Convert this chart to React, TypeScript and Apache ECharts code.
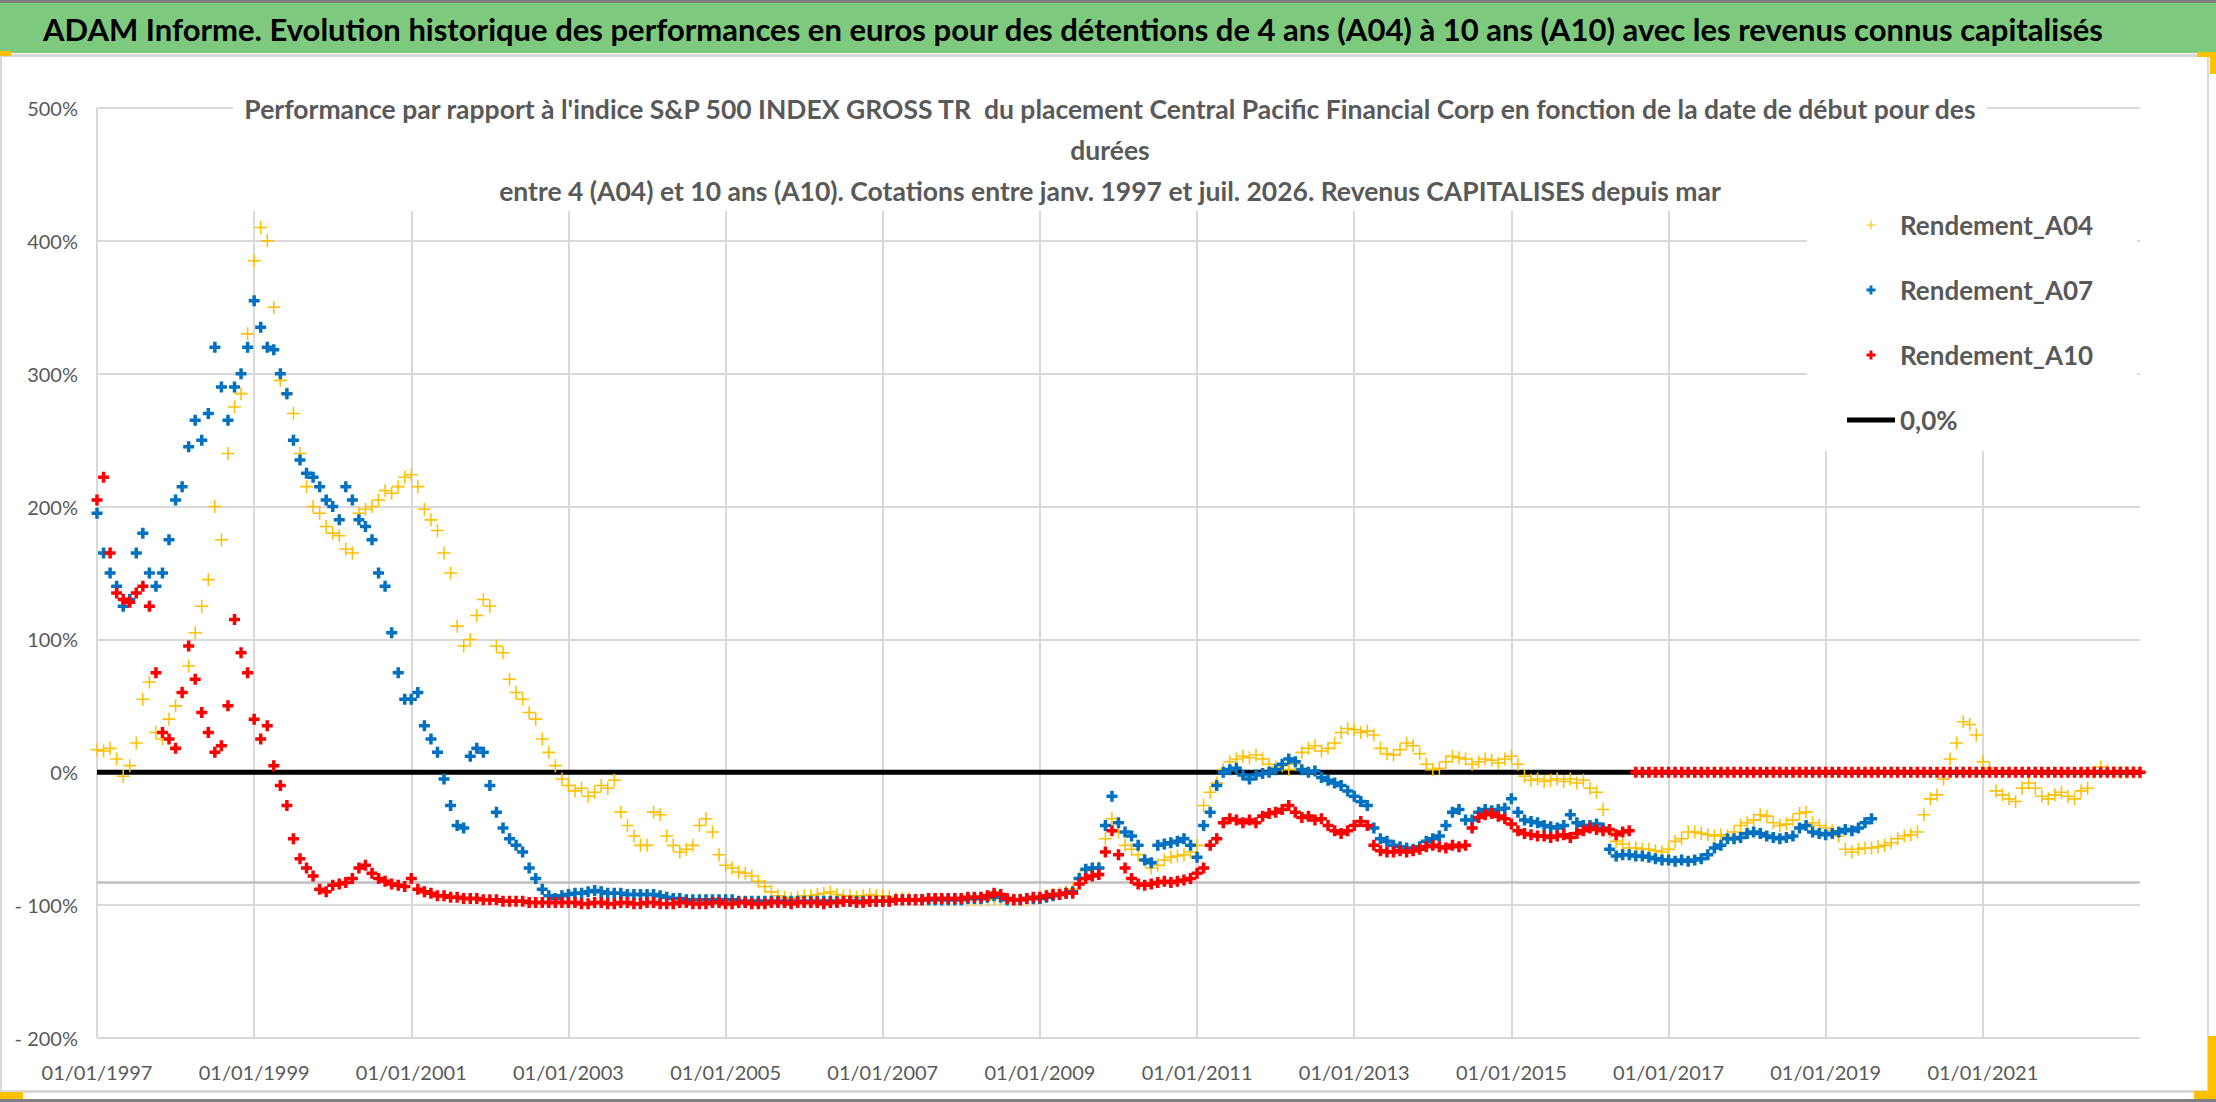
import { useEffect, useRef } from "react";
import * as echarts from "echarts";

const FONT = "Lato, 'Liberation Sans', sans-serif";
const GREY_TEXT = "#595959";
const GRID_GREY = "#D9D9D9";

const START_YEAR = 1997;
const SPAN_YEARS = 26; // 01/01/1997 -> 01/01/2023

const MAIN_TITLE =
  "ADAM Informe. Evolution historique des performances en euros pour des détentions de 4 ans (A04) à 10 ans (A10) avec les revenus connus capitalisés";
const CHART_TITLE =
  "Performance par rapport à l'indice S&P 500 INDEX GROSS TR  du placement Central Pacific Financial Corp en fonction de la date de début pour des\ndurées\nentre 4 (A04) et 10 ans (A10). Cotations entre janv. 1997 et juil. 2026. Revenus CAPITALISES depuis mar";

// one value per month (%), a row per year, starting January 1997
const rendementA04: number[] = [
  17, 16, 18, 10, -3, 5, 22, 55, 68, 30, 25, 40,
  50, 60, 80, 105, 125, 145, 200, 175, 240, 275, 285, 330,
  385, 410, 400, 350, 295, 285, 270, 240, 215, 200, 195, 185,
  180, 178, 168, 165, 195, 198, 200, 205, 212, 210, 215, 222,
  224, 215, 198, 190, 182, 165, 150, 110, 95, 100, 118, 130,
  125, 95, 90, 70, 60, 55, 45, 40, 25, 15, 5, -5,
  -10, -14, -12, -18, -15, -10, -12, -6, -30, -40, -48, -55,
  -55, -30, -32, -48, -55, -60, -58, -55, -40, -35, -45, -62,
  -70, -72, -75, -76, -78, -82, -86, -90, -93, -94, -95, -94,
  -93, -93, -92, -91, -90, -92, -93, -93, -94, -93, -92, -93,
  -93, -94, -95, -95, -95, -96, -96, -96, -96, -96, -96, -96,
  -96, -96, -96, -96, -96, -95, -95, -96, -96, -96, -96, -95,
  -94, -93, -92, -91, -90, -88, -80, -74, -73, -72, -50, -35,
  -45, -55, -58, -62, -66, -72, -70, -66, -64, -63, -62, -60,
  -55, -25, -15, -8, 2, 8, 10, 12, 11, 13, 10, 6,
  4, 5, 2, 6, 15, 18, 20, 16, 18, 22, 30, 33,
  32, 30, 31, 28, 18, 14, 13, 17, 22, 20, 14, 6,
  2, 3, 8, 12, 11, 10, 6, 8, 10, 9, 7, 10,
  12, 6, -3, -6, -5, -7, -6, -5, -7, -5, -8, -6,
  -12, -15, -28, -45, -52, -54, -57, -57, -58, -58, -59, -60,
  -58, -52, -50, -45, -45, -46, -47, -48, -47, -48, -45, -40,
  -38, -36, -32, -33, -38, -40, -39, -36, -31, -30, -38, -40,
  -42, -44, -48, -58, -60, -58, -57, -57, -56, -55, -53, -50,
  -48, -47, -45, -32, -20, -17, -5, 10, 22, 38, 36, 28,
  8, 3, -14, -17, -20, -22, -12, -8, -12, -18, -20, -17,
  -15, -18, -20, -14, -12, 0, 4, 1, 0, 0, 0, 0,
  0,
];

const rendementA07: number[] = [
  195, 165, 150, 140, 125, 130, 165, 180, 150, 140, 150, 175,
  205, 215, 245, 265, 250, 270, 320, 290, 265, 290, 300, 320,
  355, 335, 320, 318, 300, 285, 250, 235, 225, 222, 215, 205,
  200, 190, 215, 205, 190, 185, 175, 150, 140, 105, 75, 55,
  55, 60, 35, 25, 15, -5, -25, -40, -42, 12, 18, 15,
  -10, -30, -42, -50, -55, -60, -72, -80, -88, -93, -95, -93,
  -92, -91, -91, -90, -89, -90, -91, -91, -91, -92, -92, -92,
  -92, -92, -93, -94, -95, -95, -96, -96, -96, -96, -96, -96,
  -96, -96, -97, -97, -97, -97, -97, -97, -97, -97, -97, -97,
  -97, -97, -97, -97, -97, -97, -97, -97, -97, -97, -97, -97,
  -97, -97, -96, -96, -96, -96, -96, -96, -96, -96, -96, -96,
  -96, -95, -95, -95, -94, -93, -94, -96, -96, -96, -95, -95,
  -95, -94, -93, -92, -91, -90, -80, -73, -72, -72, -40, -18,
  -38, -45, -48, -55, -66, -68, -55, -54, -53, -52, -50, -55,
  -64, -40, -30, -10, 0, 2, 3, -2, -5, -2, -1, 0,
  2, 6, 10, 8, 2, 0, 1, -4, -6, -8, -10, -14,
  -18, -22, -25, -42, -50, -52, -55, -56, -57, -58, -56, -52,
  -50, -48, -40, -30, -28, -36, -36, -30, -28, -29, -28, -27,
  -20, -30, -36, -37, -38, -40, -41, -42, -40, -32, -38, -40,
  -40, -39, -42, -58, -63, -62, -62, -63, -63, -64, -65, -66,
  -66, -67, -66, -67, -66, -65, -62, -57, -55, -50, -50, -49,
  -46, -45, -46, -48, -49, -50, -49, -48, -42, -40, -45, -46,
  -47, -46, -45, -43, -44, -42, -38, -35,
];

const rendementA10: number[] = [
  205, 222, 165, 135, 130, 128, 135, 140, 125, 75, 30, 25,
  18, 60, 95, 70, 45, 30, 15, 20, 50, 115, 90, 75,
  40, 25, 35, 5, -10, -25, -50, -65, -72, -78, -88, -90,
  -85, -84, -83, -80, -72, -70, -76, -80, -82, -84, -85, -86,
  -80, -88, -90, -91, -93, -93, -94, -94, -95, -95, -95, -96,
  -96, -96, -97, -97, -97, -97, -98, -98, -98, -98, -98, -98,
  -98, -98, -99, -99, -98, -98, -99, -99, -98, -98, -99, -99,
  -98, -98, -99, -99, -99, -98, -98, -99, -99, -99, -98, -98,
  -99, -99, -98, -98, -99, -99, -99, -98, -98, -98, -99, -98,
  -98, -98, -98, -99, -98, -98, -97, -97, -98, -98, -97, -97,
  -97, -97, -96, -96, -96, -96, -96, -95, -95, -95, -95, -95,
  -95, -94, -94, -94, -93, -91, -92, -95, -96, -96, -95, -94,
  -94, -93, -92, -92, -91, -91, -84, -80, -78, -77, -60, -44,
  -62, -72, -80, -84, -85, -84, -83, -82, -83, -82, -81, -80,
  -76, -72, -55, -50, -38, -35, -36, -38, -36, -38, -33, -31,
  -30, -28, -25, -30, -34, -33, -36, -35, -40, -44, -46, -44,
  -40, -37, -40, -55, -59, -60, -60, -59, -60, -59, -58, -56,
  -55, -56, -57, -55, -56, -55, -42, -34, -32, -31, -33, -35,
  -39, -44, -46, -47, -48, -48, -49, -48, -47, -49, -46, -44,
  -42, -43, -44, -43, -47, -45, -44, 0, 0, 0, 0, 0,
  0, 0, 0, 0, 0, 0, 0, 0, 0, 0, 0, 0,
  0, 0, 0, 0, 0, 0, 0, 0, 0, 0, 0, 0,
  0, 0, 0, 0, 0, 0, 0, 0, 0, 0, 0, 0,
  0, 0, 0, 0, 0, 0, 0, 0, 0, 0, 0, 0,
  0, 0, 0, 0, 0, 0, 0, 0, 0, 0, 0, 0,
  0, 0, 0, 0, 0, 0, 0, 0, 0, 0, 0, 0,
  0,
];

// horizontal reference lines (value in %)
const zeroLine = [0, 0];
const lowerLine = [-83, -83];

const PLUS_THIN = "path://M4.4,0H5.6V4.4H10V5.6H5.6V10H4.4V5.6H0V4.4H4.4Z";
const PLUS_BOLD = "path://M3.4,0H6.6V3.4H10V6.6H6.6V10H3.4V6.6H0V3.4H3.4Z";
const LINE_ICON = "path://M0,0H48V5H0Z";

const monthly = (values: number[]) => values.map((v, i) => [i / 12, v]);
const flat = (values: number[]) => [
  [0, values[0]],
  [SPAN_YEARS, values[1]],
];

export default function App() {
  const chartRef = useRef<HTMLDivElement>(null);

  useEffect(() => {
    if (!chartRef.current) return;
    const chart = echarts.init(chartRef.current, null, { renderer: "svg" });

    const option: echarts.EChartsOption = {
      animation: false,
      backgroundColor: "#fff",
      title: {
        text: CHART_TITLE,
        left: 1100,
        textAlign: "center",
        top: 84,
        padding: [4, 10, 0, 10],
        backgroundColor: "#fff",
        z: 6,
        textStyle: {
          fontFamily: FONT,
          fontSize: 26.5,
          fontWeight: "bold",
          color: GREY_TEXT,
          lineHeight: 41,
        },
      },
      legend: {
        data: [
          { name: "Rendement_A04" },
          { name: "Rendement_A07" },
          { name: "Rendement_A10" },
          { name: "0,0%", icon: LINE_ICON, itemStyle: { color: "#000" } },
        ],
        orient: "vertical",
        left: 1807,
        top: 193,
        padding: [19, 44, 18, 40],
        itemGap: 39,
        itemWidth: 48,
        itemHeight: 9,
        backgroundColor: "#fff",
        selectedMode: false,
        z: 12,
        textStyle: {
          fontFamily: FONT,
          fontSize: 26,
          fontWeight: "bold",
          color: GREY_TEXT,
        },
      },
      grid: {
        left: 97,
        top: 108,
        right: 76,
        bottom: 64,
        containLabel: false,
        outerBoundsMode: "none",
      } as any,
      xAxis: {
        type: "value",
        min: 0,
        max: SPAN_YEARS,
        interval: 2,
        axisLine: { show: false },
        axisTick: { show: false },
        axisLabel: {
          formatter: (v: number) => `01/01/${START_YEAR + v}`,
          showMaxLabel: false,
          margin: 24,
          fontFamily: FONT,
          fontSize: 20,
          color: GREY_TEXT,
        },
        splitLine: {
          show: true,
          showMaxLine: false,
          lineStyle: { color: GRID_GREY, width: 2 },
        } as any,
      },
      yAxis: {
        type: "value",
        min: -200,
        max: 500,
        interval: 100,
        axisLine: { show: false },
        axisTick: { show: false },
        axisLabel: {
          formatter: (v: number) => (v < 0 ? `- ${-v}%` : `${v}%`),
          margin: 19,
          fontFamily: FONT,
          fontSize: 20,
          color: GREY_TEXT,
        },
        splitLine: { show: true, lineStyle: { color: GRID_GREY, width: 2 } },
      },
      graphic: [
        { type: "rect", shape: { x: 0, y: 0, width: 2216, height: 3 }, style: { fill: "#7F7F7F" } },
        { type: "rect", shape: { x: 0, y: 3, width: 2216, height: 50 }, style: { fill: "#7DC97D" } },
        { type: "rect", shape: { x: 0, y: 54, width: 2216, height: 3 }, style: { fill: GRID_GREY } },
        { type: "rect", shape: { x: 2207, y: 57, width: 2, height: 1035 }, style: { fill: GRID_GREY } },
        { type: "rect", shape: { x: 0, y: 57, width: 2, height: 1035 }, style: { fill: GRID_GREY } },
        { type: "rect", shape: { x: 0, y: 1090, width: 2216, height: 3 }, style: { fill: GRID_GREY } },
        { type: "rect", shape: { x: 0, y: 1099, width: 2216, height: 3 }, style: { fill: "#7F7F7F" } },
        { type: "rect", shape: { x: 0, y: 51, width: 11, height: 5 }, style: { fill: "#FFC000" } },
        { type: "rect", shape: { x: 2197, y: 52, width: 19, height: 5 }, style: { fill: "#FFC000" } },
        { type: "rect", shape: { x: 2210, y: 52, width: 6, height: 22 }, style: { fill: "#FFC000" } },
        { type: "rect", shape: { x: 2208, y: 1036, width: 8, height: 63 }, style: { fill: "#FFC000" } },
        { type: "rect", shape: { x: 2194, y: 1091, width: 22, height: 8 }, style: { fill: "#FFC000" } },
        { type: "rect", shape: { x: 0, y: 1092, width: 23, height: 7 }, style: { fill: "#FFC000" } },
        {
          type: "text",
          x: 1073,
          y: 29,
          style: {
            text: MAIN_TITLE,
            fontFamily: FONT,
            fontSize: 31,
            fontWeight: "bold",
            fill: "#000",
            align: "center",
            verticalAlign: "middle",
          },
        } as any,
      ],
      series: [
        {
          name: "ligne",
          type: "line",
          data: flat(lowerLine),
          symbol: "none",
          silent: true,
          lineStyle: { color: "#BFBFBF", width: 2.5 },
          z: 1,
        },
        {
          name: "0,0%",
          type: "line",
          data: flat(zeroLine),
          symbol: "none",
          silent: true,
          itemStyle: { color: "#000" },
          lineStyle: { color: "#000", width: 5 },
          z: 2,
        },
        {
          name: "Rendement_A04",
          type: "scatter",
          data: monthly(rendementA04),
          symbol: PLUS_THIN,
          symbolSize: 13,
          itemStyle: { color: "#FFC000", opacity: 1 },
          z: 3,
        },
        {
          name: "Rendement_A07",
          type: "scatter",
          data: monthly(rendementA07),
          symbol: PLUS_BOLD,
          symbolSize: 11,
          itemStyle: { color: "#0070C0", opacity: 1 },
          z: 4,
        },
        {
          name: "Rendement_A10",
          type: "scatter",
          data: monthly(rendementA10),
          symbol: PLUS_BOLD,
          symbolSize: 11,
          itemStyle: { color: "#FF0000", opacity: 1 },
          z: 5,
        },
      ],
    };

    chart.setOption(option);

    return () => {
      chart.dispose();
    };
  }, []);

  return (
    <div
      ref={chartRef}
      style={{ position: "fixed", left: 0, top: 0, width: "2216px", height: "1102px" }}
    />
  );
}
